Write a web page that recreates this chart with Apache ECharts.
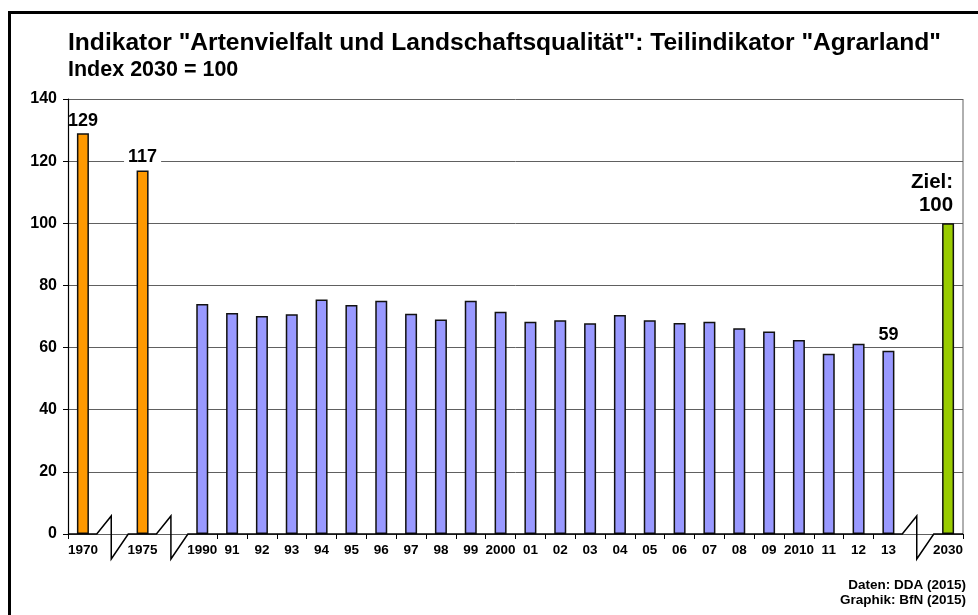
<!DOCTYPE html>
<html><head><meta charset="utf-8">
<script src="https://cdn.jsdelivr.net/npm/echarts@6/dist/echarts.min.js"></script>
<style>html,body{margin:0;padding:0;background:#fff}#c{width:978px;height:615px}</style>
</head><body><div id="c"></div>
<script>
const categories = ['1970','gap1','1975','gap2','1990','91','92','93','94','95','96','97','98','99','2000','01','02','03','04','05','06','07','08','09','2010','11','12','13','gap3','2030'];
const gapCategories = ['gap1','gap2','gap3'];
const historicYears = ['1970','1975'];
const historicValues = [129, 117];
const annualYears = ['1990','91','92','93','94','95','96','97','98','99','2000','01','02','03','04','05','06','07','08','09','2010','11','12','13'];
const annualValues = [74.0, 71.1, 70.2, 70.7, 75.5, 73.7, 75.1, 70.9, 69.0, 75.1, 71.5, 68.3, 68.8, 67.8, 70.5, 68.8, 67.9, 68.3, 66.2, 65.2, 62.4, 58.0, 61.2, 59];
const targetYear = '2030';
const targetValue = 100;
const yTickValues = [0, 20, 40, 60, 80, 100, 120, 140];
const titleText = 'Indikator "Artenvielfalt und Landschaftsqualität": Teilindikator "Agrarland"';
const subtitleText = 'Index 2030 = 100';
const creditText = 'Daten: DDA (2015)\nGraphik: BfN (2015)';

const FONT = "'Liberation Sans', Arial, sans-serif";
const chart = echarts.init(document.getElementById('c'), null, {renderer: 'canvas'});

const numLabel = {show: true, position: 'top', distance: 3, color: '#000', fontFamily: FONT, fontWeight: 'bold', fontSize: 18};

const historicData = categories.map(c => {
  const i = historicYears.indexOf(c);
  if (i < 0) return '-';
  const item = {value: historicValues[i], label: Object.assign({}, numLabel, {formatter: p => String(Math.round(p.value))})};
  if (i === 1) Object.assign(item.label, {backgroundColor: '#fff', padding: [1, 4, 1, 4], distance: 3});
  return item;
});
const annualData = categories.map(c => {
  const i = annualYears.indexOf(c);
  if (i < 0) return '-';
  const item = {value: annualValues[i]};
  if (i === annualYears.length - 1) item.label = Object.assign({}, numLabel, {distance: 7, formatter: p => String(Math.round(p.value))});
  return item;
});
const targetData = categories.map(c => c === targetYear ? {
  value: targetValue,
  label: Object.assign({}, numLabel, {fontSize: 20.5, lineHeight: 23, align: 'right', offset: [5, 0], distance: 6, formatter: p => 'Ziel:\n' + p.value})
} : '-');

const barBase = {type: 'bar', barWidth: 12, barGap: '-100%', itemStyle: {borderColor: '#111', borderWidth: 1.5}};

const option = {
  animation: false,
  backgroundColor: '#fff',
  grid: {left: 68, right: 15, top: 99, bottom: 81},
  xAxis: {
    type: 'category', data: categories,
    axisLine: {show: false},
    axisTick: {show: true, length: 5, lineStyle: {color: '#000', width: 1},
      interval: (i) => !gapCategories.includes(categories[i]) && !(i > 0 && gapCategories.includes(categories[i - 1]))},
    axisLabel: {interval: 0, margin: 9, color: '#000', fontFamily: FONT, fontWeight: 'bold', fontSize: 13.5,
      formatter: v => gapCategories.includes(v) ? '' : v}
  },
  yAxis: {
    type: 'value', min: yTickValues[0], max: yTickValues[yTickValues.length - 1], interval: yTickValues[1] - yTickValues[0],
    axisLine: {show: true, lineStyle: {color: '#000', width: 1.2}},
    axisTick: {show: true, length: 5, lineStyle: {color: '#000'}},
    axisLabel: {margin: 11, color: '#000', fontFamily: FONT, fontWeight: 'bold', fontSize: 16},
    splitLine: {show: true, lineStyle: {color: '#606060', width: 1}}
  },
  series: [
    Object.assign({}, barBase, {name: 'historic', data: historicData, itemStyle: Object.assign({}, barBase.itemStyle, {color: '#FF9900'})}),
    Object.assign({}, barBase, {name: 'annual', data: annualData, itemStyle: Object.assign({}, barBase.itemStyle, {color: '#9999FF'})}),
    Object.assign({}, barBase, {name: 'target', data: targetData, itemStyle: Object.assign({}, barBase.itemStyle, {color: '#99CC00'})})
  ]
};
chart.setOption(option);

// decorations computed from the chart's own scales
const px = c => chart.convertToPixel({xAxisIndex: 0}, c);
const y0 = chart.convertToPixel({yAxisIndex: 0}, 0);
const yTop = chart.convertToPixel({yAxisIndex: 0}, yTickValues[yTickValues.length - 1]);
const slot = px(categories[1]) - px(categories[0]);
const xLeft = px(categories[0]) - slot / 2;
const xRight = px(categories[categories.length - 1]) + slot / 2;
const pts = [[xLeft, y0]];
gapCategories.forEach(g => {
  const c = px(g);
  pts.push([c - 16, y0], [c - 1.5, y0 - 18], [c - 1.5, y0 + 25], [c + 15.5, y0]);
});
pts.push([xRight, y0]);

chart.setOption({
  graphic: [
    {type: 'rect', shape: {x: 9.5, y: 12.5, width: 1000, height: 700}, style: {fill: 'none', stroke: '#000', lineWidth: 3}, silent: true},
    {type: 'text', x: 68, y: 30.5, style: {text: titleText, font: 'bold 24.6px ' + FONT, fill: '#000'}},
    {type: 'text', x: 68, y: 59.5, style: {text: subtitleText, font: 'bold 21.5px ' + FONT, fill: '#000'}},
    {type: 'text', x: 966, y: 578, style: {text: creditText, align: 'right', font: 'bold 13.5px ' + FONT, lineHeight: 15, fill: '#000'}},
    {type: 'line', shape: {x1: xRight, y1: yTop, x2: xRight, y2: y0}, style: {stroke: '#606060', lineWidth: 1}, silent: true},
    {type: 'polyline', shape: {points: pts}, style: {stroke: '#000', lineWidth: 1.5, fill: 'none'}, silent: true, z: 100}
  ]
});
</script></body></html>
